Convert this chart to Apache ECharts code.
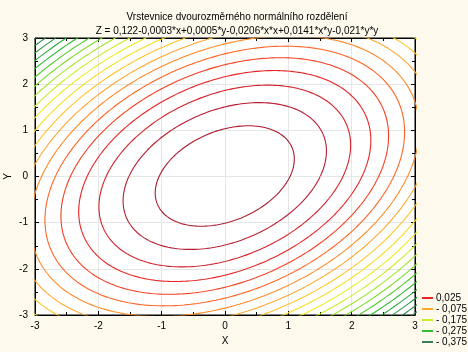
<!DOCTYPE html>
<html>
<head>
<meta charset="utf-8">
<script src="https://cdn.jsdelivr.net/npm/echarts@6/dist/echarts.min.js"></script>
<style>
    html, body { margin: 0; padding: 0; background: #fdf9ec; }
    #chart { width: 468px; height: 352px; }
</style>
</head>
<body>
<div id="chart"></div>
<script>
    // koeficienty: konst, x, y, x*x, x*y, y*y
    var coef = [0.122, -0.0003, 0.0005, -0.0206, 0.0141, -0.021];
    var levels = [0.1, 0.075, 0.05, 0.025, 0, -0.025, -0.05, -0.075, -0.1, -0.125,
                  -0.15, -0.175, -0.2, -0.225, -0.25, -0.275, -0.3, -0.325, -0.35, -0.375];
    var legendLevels = [0.025, -0.075, -0.175, -0.275, -0.375];
    var legendLabels = ['0,025', '- 0,075', '- 0,175', '- 0,275', '- 0,375'];
    var axisTicks = [-3, -2, -1, 0, 1, 2, 3];

    var lineColors = ['#a81c30', '#b81c30', '#d42028', '#e82424', '#f44020', '#ff6424', '#ff8a28', '#ffa830',
                      '#ffc428', '#f8dc20', '#ecec20', '#ccec28', '#a4e428', '#7cdc28', '#50cc28', '#30bc30',
                      '#28a838', '#289440', '#2e8448', '#3c7c5c'];

    // stred elipsy
    var a = coef[3], b = coef[4], d = coef[5], e = coef[1], f = coef[2];
    var det = 4 * a * d - b * b;
    var cx = (-e * 2 * d + f * b) / det;
    var cy = (-f * 2 * a + e * b) / det;
    var zc = coef[0] + e * cx + f * cy + a * cx * cx + b * cx * cy + d * cy * cy;

    function contour(level) {
        var pts = [];
        var n = 720;
        for (var i = 0; i <= n; i++) {
            var t = i / n * 2 * Math.PI;
            var u = Math.cos(t), v = Math.sin(t);
            var q = a * u * u + b * u * v + d * v * v;
            var r = Math.sqrt((level - zc) / q);
            pts.push([cx + r * u, cy + r * v]);
        }
        return pts;
    }

    var series = levels.map(function (lv, i) {
        var k = legendLevels.indexOf(lv);
        return {
            type: 'line',
            name: k >= 0 ? legendLabels[k] : 'l' + i,
            data: contour(lv),
            symbol: 'none',
            clip: true,
            smooth: false,
            lineStyle: { width: 1.1, color: lineColors[i] },
            itemStyle: { color: lineColors[i] }
        };
    });

    var font = 'Liberation Sans, Arial, sans-serif';
    var baseAxis = {
        type: 'value',
        min: axisTicks[0],
        max: axisTicks[axisTicks.length - 1],
        interval: 1,
        axisLine: { show: true, onZero: false, lineStyle: { color: '#000', width: 1 } },
        axisTick: { show: true, inside: true, length: 4, lineStyle: { color: '#000' } },
        minorTick: { show: true, splitNumber: 2, length: 3, lineStyle: { color: '#000' } },
        splitLine: { show: false }
    };

    function mk(extra) {
        return Object.assign({}, JSON.parse(JSON.stringify(baseAxis)), extra);
    }

    var chart = echarts.init(document.getElementById('chart'));
    var option = {
        animation: false,
        backgroundColor: '#fdf9ec',
        title: {
            text: 'Vrstevnice dvourozměrného normálního rozdělení\nZ = 0,122-0,0003*x+0,0005*y-0,0206*x*x+0,0141*x*y-0,021*y*y',
            left: 232,
            textAlign: 'center',
            top: 5,
            textStyle: { fontSize: 10, fontWeight: 'normal', color: '#000', fontFamily: font, lineHeight: 14 }
        },
        legend: {
            orient: 'vertical',
            left: 417,
            top: 288,
            itemGap: 1,
            itemWidth: 11,
            itemHeight: 2,
            icon: 'rect',
            data: legendLabels,
            textStyle: { fontSize: 10, color: '#000', fontFamily: font, padding: [0, 0, 0, -2] }
        },
        grid: {
            left: 35, right: 53, top: 38, bottom: 37,
            containLabel: false,
            outerBoundsMode: 'none',
            show: true, backgroundColor: '#fff', borderColor: '#000', borderWidth: 1
        },
        xAxis: [
            mk({
                position: 'bottom',
                name: 'X', nameLocation: 'middle', nameGap: 20,
                nameTextStyle: { fontSize: 10, color: '#000', fontFamily: font },
                axisLabel: { fontSize: 10, color: '#000', fontFamily: font, margin: 6 },
                splitLine: { show: true, lineStyle: { color: '#e6e6e6', width: 1 } }
            }),
            mk({ position: 'top', axisLabel: { show: false } })
        ],
        yAxis: [
            mk({
                position: 'left',
                name: 'Y', nameLocation: 'middle', nameGap: 22, nameRotate: 90,
                nameMoveOverlap: false,
                nameTextStyle: { fontSize: 10, color: '#000', fontFamily: font },
                axisLabel: { fontSize: 10, color: '#000', fontFamily: font, margin: 7 },
                splitLine: { show: true, lineStyle: { color: '#e6e6e6', width: 1 } }
            }),
            mk({ position: 'right', axisLabel: { show: false } })
        ],
        series: series
    };
    chart.setOption(option);
</script>
</body>
</html>
